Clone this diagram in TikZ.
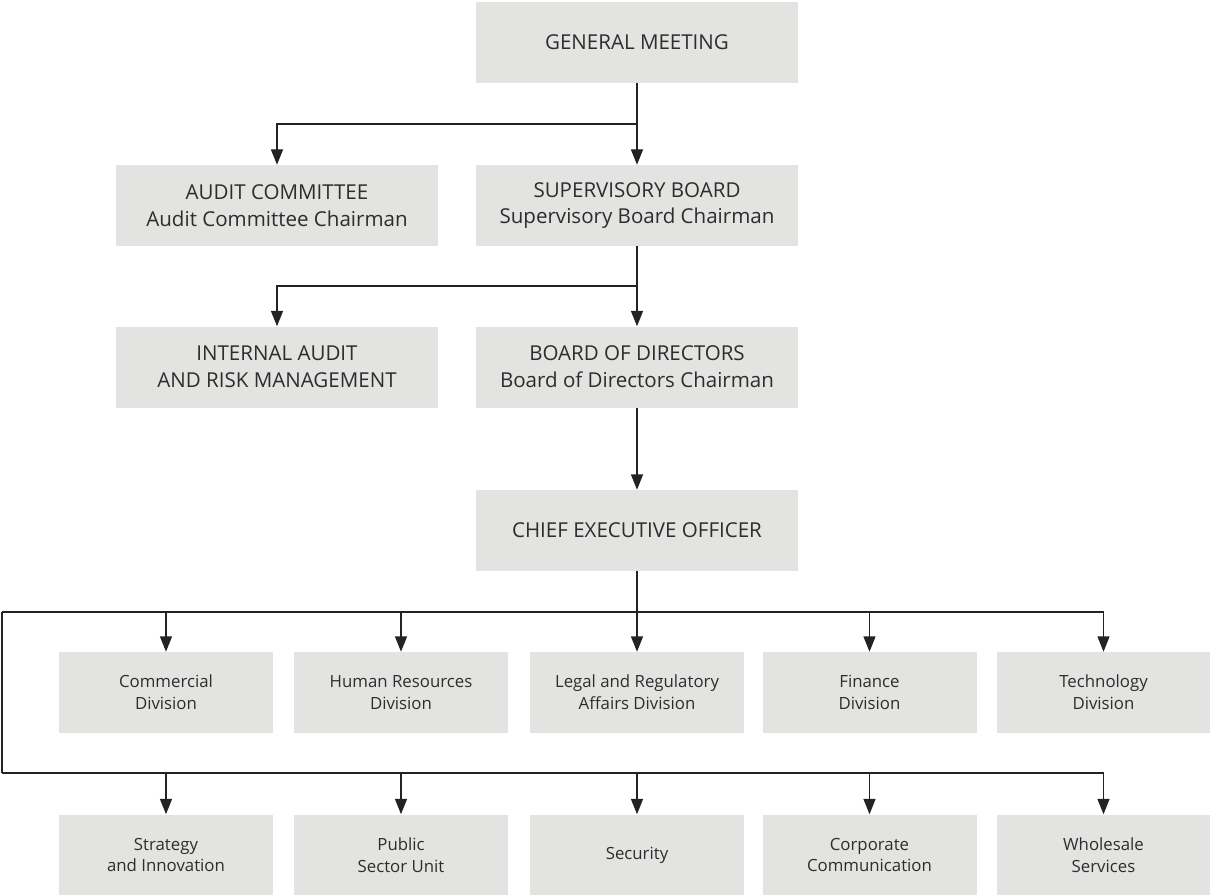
\documentclass[tikz,border=0pt]{standalone}
\usepackage{fontspec}
\setmainfont{Open Sans}
\usetikzlibrary{arrows.meta}
\definecolor{boxgray}{RGB}{227,227,226}
\definecolor{linegray}{RGB}{35,35,35}
\definecolor{textgray}{RGB}{45,45,45}

\tikzset{
  bigbox/.style={fill=boxgray, text=textgray, minimum width=241.5pt, minimum height=60.75pt,
    inner sep=0pt, align=center, font=\fontsize{15.4}{20.2}\selectfont},
  smallbox/.style={fill=boxgray, text=textgray, minimum width=160.5pt, minimum height=60.75pt,
    inner sep=0pt, align=center, font=\fontsize{12.6}{16.3}\selectfont},
  arr/.style={-{Triangle[length=11.5pt, width=9pt]}, linegray, line width=0.9pt},
  link/.style={linegray, line width=0.9pt}
}

\begin{document}
\begin{tikzpicture}[x=0.75pt, y=-0.75pt]
  \useasboundingbox (0,0) rectangle (1210,895);

  % governing bodies
  \node[bigbox] (gm) at (637,42.5) {GENERAL MEETING};
  \node[bigbox] (audit) at (277,205.5) {AUDIT COMMITTEE\\Audit Committee Chairman};
  \node[bigbox] (super) at (637,205.5) {SUPERVISORY BOARD\\Supervisory Board Chairman};
  \node[bigbox] (intaudit) at (277,367) {INTERNAL AUDIT\\AND RISK MANAGEMENT};
  \node[bigbox] (board) at (637,367) {BOARD OF DIRECTORS\\Board of Directors Chairman};
  \node[bigbox] (ceo) at (637,530.5) {CHIEF EXECUTIVE OFFICER};

  % divisions
  \node[smallbox] (commercial) at (166,692.5) {Commercial\\Division};
  \node[smallbox] (hr) at (401,692.5) {Human Resources\\Division};
  \node[smallbox] (legal) at (637,692.5) {Legal and Regulatory\\Affairs Division};
  \node[smallbox] (finance) at (869.5,692.5) {Finance\\Division};
  \node[smallbox] (tech) at (1103.5,692.5) {Technology\\Division};

  % units
  \node[smallbox] (strategy) at (166,855) {Strategy\\and Innovation};
  \node[smallbox] (public) at (401,855) {Public\\Sector Unit};
  \node[smallbox] (security) at (637,855) {Security};
  \node[smallbox] (corpcomm) at (869.5,855) {Corporate\\Communication};
  \node[smallbox] (wholesale) at (1103.5,855) {Wholesale\\Services};

  % forks
  \coordinate (gmfork) at (637,124);
  \coordinate (superfork) at (637,286);
  \coordinate (busA) at (2,612);
  \coordinate (busB) at (2,773);

  \draw[arr] (gm.south) -- (super.north);
  \draw[arr] (gmfork) -| (audit.north);
  \draw[arr] (super.south) -- (board.north);
  \draw[arr] (superfork) -| (intaudit.north);
  \draw[arr] (board.south) -- (ceo.north);
  \draw[arr] (ceo.south) -- (legal.north);

  % division bus
  \draw[arr] (busA) -| (tech.north);
  \draw[arr] (commercial.north |- busA) -- (commercial.north);
  \draw[arr] (hr.north |- busA) -- (hr.north);
  \draw[arr] (finance.north |- busA) -- (finance.north);

  % unit bus
  \draw[link] (busA) -- (busB);
  \draw[arr] (busB) -| (wholesale.north);
  \draw[arr] (strategy.north |- busB) -- (strategy.north);
  \draw[arr] (public.north |- busB) -- (public.north);
  \draw[arr] (security.north |- busB) -- (security.north);
  \draw[arr] (corpcomm.north |- busB) -- (corpcomm.north);
\end{tikzpicture}
\end{document}
